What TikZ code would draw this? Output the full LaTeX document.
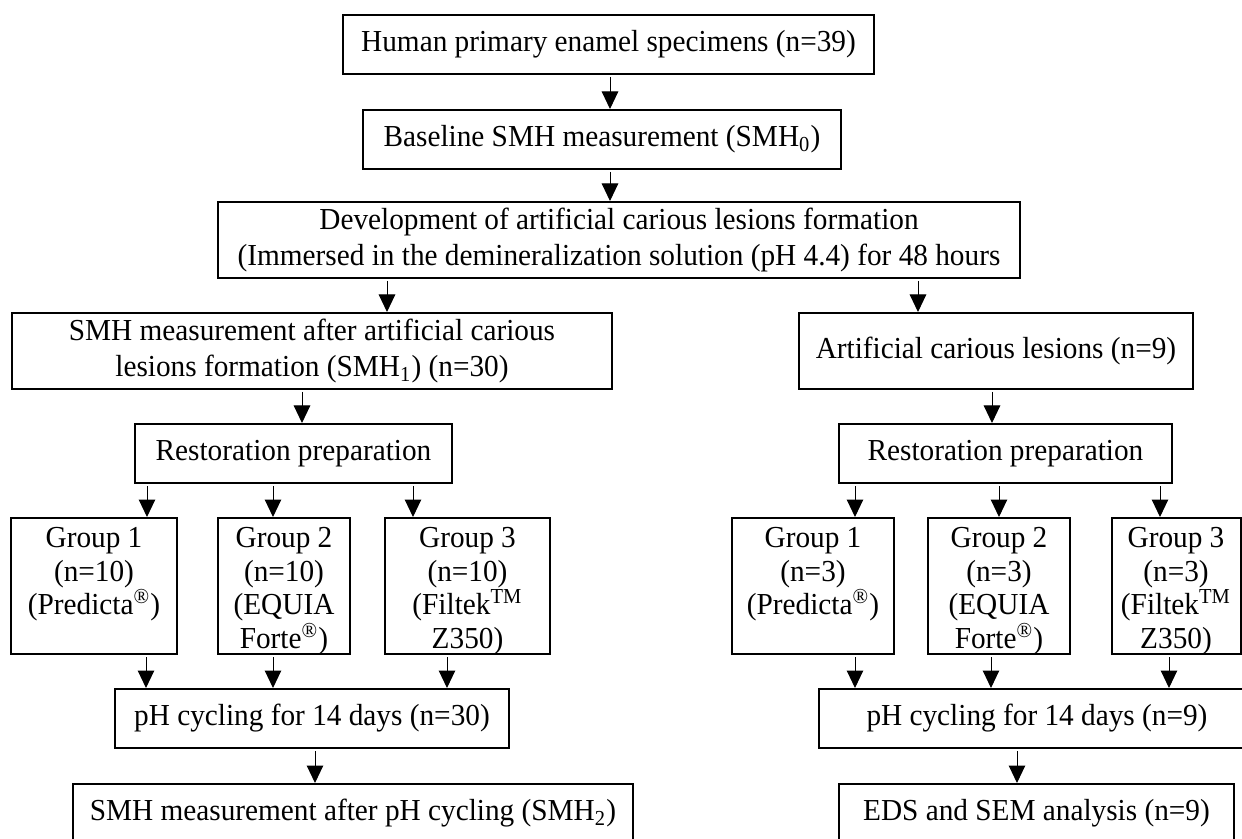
\documentclass[tikz,border=0pt]{standalone}
\usepackage{fontspec}
\setmainfont{Liberation Serif}[FakeStretch=0.96]
\usetikzlibrary{arrows.meta}
\newcommand{\gtop}{\rule{0pt}{10pt}}
\begin{document}
\begin{tikzpicture}[x={(0.4pt,0)},y={(0,-0.4pt)},
  box/.style n args={2}{draw, line width=0.8pt, inner sep=1pt, align=center,
    minimum width=#1*0.4pt, minimum height=#2*0.4pt,
    font=\fontsize{12.2}{14.6}\selectfont},
  gbox/.style n args={2}{draw, line width=0.8pt, inner sep=0pt,
    minimum width=#1*0.4pt, minimum height=#2*0.4pt},
  gtext/.style={anchor=north, inner sep=0pt, align=center,
    font=\fontsize{12.2}{13.4}\selectfont},
  arr/.style={line width=0.4pt, -{Triangle[length=7pt,width=6.6pt]}, shorten <=0.8pt}]
\useasboundingbox (0,0) rectangle (1242,839);
\fill[white] (0,0) rectangle (1242,839);
\clip (0,0) rectangle (1242,839);
% main column
\node[box={531}{59}] (b1) at (608.5,44.5) {Human primary enamel specimens (n=39)};
\node[box={478}{59}] (b2) at (602,139.5) {Baseline SMH measurement (SMH\textsubscript{0})};
\node[box={802}{76}] (b3) at (619,240) {Development of artificial carious lesions formation\\(Immersed in the demineralization solution (pH 4.4) for 48 hours};
\node[box={600}{76}] (b4) at (312,351) {SMH measurement after artificial carious\\lesions formation (SMH\textsubscript{1}) (n=30)};
\node[box={394}{76}] (b5) at (996,351) {Artificial carious lesions (n=9)};
\node[box={317}{59}] (rL) at (293.5,453.5) {Restoration preparation};
\node[box={333}{59}] (rR) at (1005.5,453.5) {Restoration preparation};
% groups left
\node[gbox={166}{136}] (gL1) at (94,586) {};
\node[gbox={132}{136}] (gL2) at (284,586) {};
\node[gbox={165}{136}] (gL3) at (467.5,586) {};
\node[gtext] (tL1) at ([yshift=-2pt]gL1.north) {\gtop Group 1\\(n=10)\\(Predicta\textsuperscript{\textregistered})};
\node[gtext] (tL2) at ([yshift=-2pt]gL2.north) {\gtop Group 2\\(n=10)\\(EQUIA\\Forte\textsuperscript{\textregistered})};
\node[gtext] (tL3) at ([yshift=-2pt]gL3.north) {\gtop Group 3\\(n=10)\\(Filtek\textsuperscript{TM}\\Z350)};
% groups right
\node[gbox={162}{136}] (gR1) at (813,586) {};
\node[gbox={142}{136}] (gR2) at (999,586) {};
\node[gbox={129}{136}] (gR3) at (1176,586) {};
\node[gtext] (tR1) at ([yshift=-2pt]gR1.north) {\gtop Group 1\\(n=3)\\(Predicta\textsuperscript{\textregistered})};
\node[gtext] (tR2) at ([yshift=-2pt]gR2.north) {\gtop Group 2\\(n=3)\\(EQUIA\\Forte\textsuperscript{\textregistered})};
\node[gtext] (tR3) at ([yshift=-2pt]gR3.north) {\gtop Group 3\\(n=3)\\(Filtek\textsuperscript{TM}\\Z350)};
% pH cycling
\node[box={394}{59}] (pL) at (312,718.5) {pH cycling for 14 days (n=30)};
\node[box={436}{59}] (pR) at (1037,718.5) {pH cycling for 14 days (n=9)};
% final
\node[box={560}{59}] (fL) at (353,813.5) {SMH measurement after pH cycling (SMH\textsubscript{2})};
\node[box={395}{59}] (fR) at (1036.5,813.5) {EDS and SEM analysis (n=9)};
% arrows
\draw[arr] (610,0 |- b1.south) -- (610,0 |- b2.north);
\draw[arr] (610,0 |- b2.south) -- (610,0 |- b3.north);
\draw[arr] (387,0 |- b3.south) -- (387,0 |- b4.north);
\draw[arr] (918,0 |- b3.south) -- (918,0 |- b5.north);
\draw[arr] (302,0 |- b4.south) -- (302,0 |- rL.north);
\draw[arr] (992,0 |- b5.south) -- (992,0 |- rR.north);
\draw[arr] (147,0 |- rL.south) -- (147,0 |- gL1.north);
\draw[arr] (273,0 |- rL.south) -- (273,0 |- gL2.north);
\draw[arr] (413,0 |- rL.south) -- (413,0 |- gL3.north);
\draw[arr] (146,0 |- gL1.south) -- (146,0 |- pL.north);
\draw[arr] (273,0 |- gL2.south) -- (273,0 |- pL.north);
\draw[arr] (447,0 |- gL3.south) -- (447,0 |- pL.north);
\draw[arr] (315,0 |- pL.south) -- (315,0 |- fL.north);
\draw[arr] (855,0 |- rR.south) -- (855,0 |- gR1.north);
\draw[arr] (999,0 |- rR.south) -- (999,0 |- gR2.north);
\draw[arr] (1160,0 |- rR.south) -- (1160,0 |- gR3.north);
\draw[arr] (855,0 |- gR1.south) -- (855,0 |- pR.north);
\draw[arr] (991,0 |- gR2.south) -- (991,0 |- pR.north);
\draw[arr] (1169,0 |- gR3.south) -- (1169,0 |- pR.north);
\draw[arr] (1017,0 |- pR.south) -- (1017,0 |- fR.north);
\end{tikzpicture}
\end{document}
